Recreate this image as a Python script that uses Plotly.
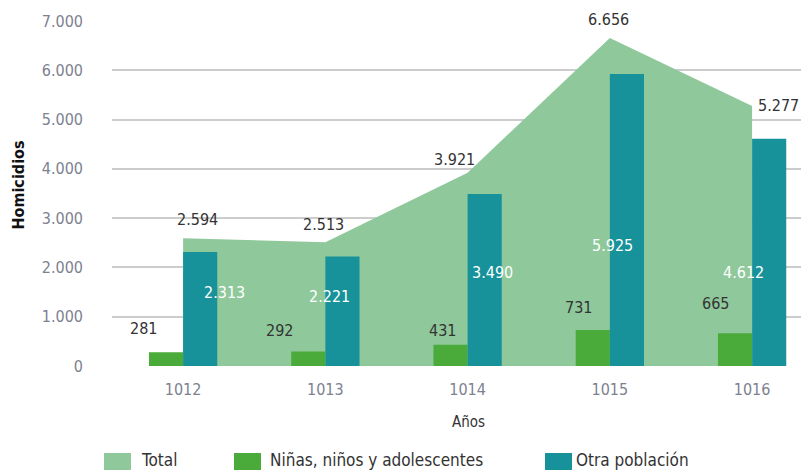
import plotly.graph_objects as go

years = ["1012", "1013", "1014", "1015", "1016"]
total = [2594, 2513, 3921, 6656, 5277]
ninos = [281, 292, 431, 731, 665]
otra = [2313, 2221, 3490, 5925, 4612]
y_ticks = [0, 1000, 2000, 3000, 4000, 5000, 6000, 7000]

# label offsets (px) relative to the data point
total_shift = [(14, 19), (-2, 18), (-13, 13), (-1, 18), (26, 0)]
ninos_shift = [(-40, 24), (-46, 21), (-25, 14), (-31, 22), (-37, 30)]
otra_shift = [(41, -40), (4, -40), (25, -79), (3, -172), (-9, -134)]

C_TOTAL = "#8fc89b"
C_NINOS = "#4aab3a"
C_OTRA = "#17929a"
FONT = "DejaVu Sans Condensed, DejaVu Sans, sans-serif"

X_RANGE = [-0.5, 4.4]
Y_RANGE = [0, 7000]

fig = go.Figure()
fig.add_trace(go.Scatter(x=years, y=total, mode="lines", fill="tozeroy",
                         fillcolor=C_TOTAL, line=dict(width=0, color=C_TOTAL),
                         name="Total", showlegend=False, hoverinfo="skip",
                         xaxis="x", yaxis="y"))
fig.add_trace(go.Bar(x=years, y=ninos, marker=dict(color=C_NINOS, line=dict(width=0)),
                     name="Niñas, niños y adolescentes", showlegend=False,
                     xaxis="x2", yaxis="y2"))
fig.add_trace(go.Bar(x=years, y=otra, marker=dict(color=C_OTRA, line=dict(width=0)),
                     name="Otra población", showlegend=False,
                     xaxis="x2", yaxis="y2"))

ann = []
def fmt(v):
    return f"{v:,}".replace(",", ".")

LBL = 16
for i, y in enumerate(years):
    dx, dy = total_shift[i]
    ann.append(dict(xref="x", yref="y", x=i, y=total[i], text=fmt(total[i]), xshift=dx, yshift=dy,
                    showarrow=False, font=dict(family=FONT, size=LBL, color="#333333")))
    dx, dy = ninos_shift[i]
    ann.append(dict(xref="x", yref="y", x=i, y=ninos[i], text=fmt(ninos[i]), xshift=dx, yshift=dy,
                    showarrow=False, font=dict(family=FONT, size=LBL, color="#333333")))
    dx, dy = otra_shift[i]
    ann.append(dict(xref="x", yref="y", x=i, y=otra[i], text=fmt(otra[i]), xshift=dx, yshift=dy,
                    showarrow=False, font=dict(family=FONT, size=LBL, color="#ffffff")))

# screen geometry (page body adds an 8px offset)
OFF = 8
L_S, R_S, T_S, B_S = 112, 809, 21, 366   # plot area on screen
W, H = 809 - OFF, 470 - OFF
margin = dict(l=L_S - OFF, r=W - (R_S - OFF), t=T_S - OFF, b=H - (B_S - OFF))
pw, ph = R_S - L_S, B_S - T_S
def px(x):
    return (x - L_S) / pw
def py(y):
    return (B_S - y) / ph

# axis titles
ann.append(dict(xref="paper", yref="paper", x=px(18.5), y=py(185), xanchor="center", yanchor="middle",
                text="<b>Homicidios</b>", textangle=-90, showarrow=False,
                font=dict(family=FONT, size=16, color="#111111")))
ann.append(dict(xref="paper", yref="paper", x=px(468), y=py(422), xanchor="center", yanchor="middle",
                text="Años", showarrow=False, font=dict(family=FONT, size=15, color="#333333")))

# legend
legend_items = [("Total", C_TOTAL, 104, 139), ("Niñas, niños y adolescentes", C_NINOS, 234, 268),
                ("Otra población", C_OTRA, 545, 574)]
shapes = []
for name, col, sx, tx in legend_items:
    shapes.append(dict(type="rect", xref="paper", yref="paper", x0=px(sx), x1=px(sx + 27),
                       y0=py(470), y1=py(453), fillcolor=col, line=dict(width=0)))
    ann.append(dict(xref="paper", yref="paper", x=px(tx), y=py(460), xanchor="left",
                    yanchor="middle", text=name, showarrow=False,
                    font=dict(family=FONT, size=17, color="#333333")))

axis_common = dict(showline=False, zeroline=False)
fig.update_layout(
    width=W, height=H,
    margin=margin,
    plot_bgcolor="white", paper_bgcolor="white",
    barmode="group", bargap=0.52, bargroupgap=0,
    separators=",.",
    showlegend=False,
    annotations=ann, shapes=shapes,
    xaxis=dict(type="category", categoryarray=years, range=X_RANGE,
               showgrid=False, ticks="", ticklabelstandoff=12,
               tickfont=dict(family=FONT, size=16, color="#7d8190"), **axis_common),
    yaxis=dict(range=Y_RANGE, tickvals=y_ticks, tickformat=",d",
               showgrid=True, gridcolor="#cccccc", gridwidth=2,
               ticks="", ticklabelstandoff=28,
               tickfont=dict(family=FONT, size=16, color="#7d8190"), **axis_common),
    xaxis2=dict(type="category", categoryarray=years, range=X_RANGE, overlaying="x",
                visible=False, **axis_common),
    yaxis2=dict(range=Y_RANGE, overlaying="y", visible=False, **axis_common),
)

fig.write_html("out.html")
